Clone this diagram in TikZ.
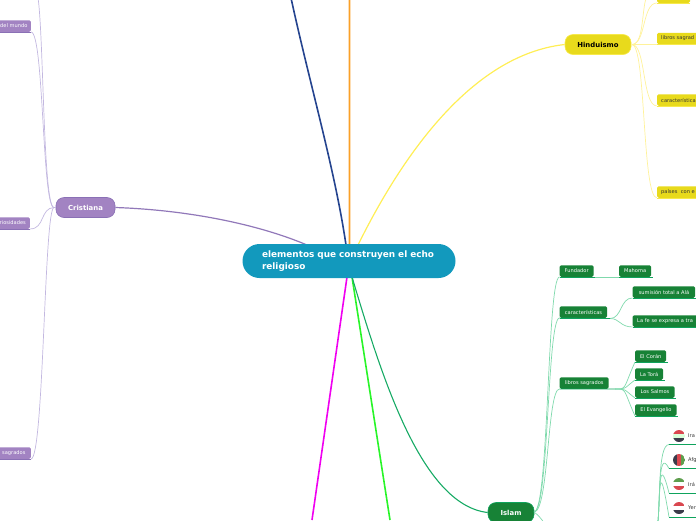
\documentclass[tikz,border=0pt]{standalone}
\usepackage{fontspec}
\setmainfont{DejaVu Sans}
\definecolor{cblue}{HTML}{1299BD}
\definecolor{cyel}{HTML}{E8DA1C}
\definecolor{lyel}{HTML}{FFF29A}
\definecolor{uyel}{HTML}{F7E94A}
\definecolor{cgrn}{HTML}{178236}
\definecolor{dgrn}{HTML}{0EA35C}
\definecolor{lgrn}{HTML}{7FD9AC}
\definecolor{cpur}{HTML}{A283C2}
\definecolor{dpur}{HTML}{8A70B5}
\definecolor{lpur}{HTML}{C3B8E0}
\definecolor{mnavy}{HTML}{25448F}
\definecolor{morange}{HTML}{FAA028}
\definecolor{myellow}{HTML}{FFEE55}
\definecolor{mpurple}{HTML}{9178B9}
\definecolor{mmagenta}{HTML}{F000F0}
\definecolor{mlime}{HTML}{28F528}
\definecolor{mgreen}{HTML}{16AA64}
\definecolor{fred}{HTML}{D9474F}
\definecolor{fblack}{HTML}{3B3B4A}
\definecolor{fgreen}{HTML}{5E9E4E}
\tikzset{
 x=1pt,y=-1pt,
 maintopic/.style={fill=cblue,rounded corners=17pt,minimum width=213pt,minimum height=34pt,inner xsep=19.5pt,inner ysep=0,text width=174pt,align=left,text=white,font=\fontsize{8.9}{11.6}\selectfont\bfseries},
 branch/.style={rounded corners=8pt,minimum height=20pt,inner sep=0,line width=.6pt,font=\fontsize{6.9}{8}\selectfont\bfseries},
 ybranch/.style={branch,fill=cyel,draw=uyel,text=black,minimum width=66pt},
 gbranch/.style={branch,fill=cgrn,draw=dgrn,text=white,minimum width=46pt},
 pbranch/.style={branch,fill=cpur,draw=dpur,text=white,minimum width=59pt},
 leaf/.style={rounded corners=1.5pt,minimum height=11.5pt,inner xsep=0,inner ysep=0,anchor=west,font=\fontsize{5.1}{6}\selectfont},
 gleaf/.style={leaf,fill=cgrn,text=white},
 yleaf/.style={leaf,fill=cyel,text=black!80,inner xsep=4pt,text width=50pt,align=left},
 pleaf/.style={leaf,fill=cpur,text=white,anchor=east},
 gedge/.style={leaf,fill=cgrn,text=white,inner xsep=4.5pt,text width=60pt,align=left},
 ctext/.style={anchor=west,inner sep=0,font=\fontsize{5.1}{6}\selectfont,text=black!80},
 gline/.style={draw=lgrn,line width=.7pt},
 yline/.style={draw=lyel,line width=.7pt},
 pline/.style={draw=lpur,line width=.7pt},
 gunder/.style={draw=dgrn,line width=.8pt},
 yunder/.style={draw=uyel,line width=.8pt},
 punder/.style={draw=dpur,line width=.8pt},
}
\newcommand{\flagc}[5]{%
 \begin{scope}
 \clip (#1,#2) circle (6pt);
 \fill[#3] (#1-6,#2-6) rectangle (#1+6,#2-2);
 \fill[#4] (#1-6,#2-2) rectangle (#1+6,#2+2);
 \fill[#5] (#1-6,#2+2) rectangle (#1+6,#2+6);
 \end{scope}}
\newcommand{\flagv}[5]{%
 \begin{scope}
 \clip (#1,#2) circle (6pt);
 \fill[#3] (#1-6,#2-6) rectangle (#1-2,#2+6);
 \fill[#4] (#1-2,#2-6) rectangle (#1+2,#2+6);
 \fill[#5] (#1+2,#2-6) rectangle (#1+6,#2+6);
 \end{scope}}
\begin{document}
\begin{tikzpicture}
\useasboundingbox (0,0) rectangle (696,520);
\coordinate (ctop1) at (291,-2);
\coordinate (ctop2) at (349.5,-5);
\coordinate (cb1) at (312,520);
\coordinate (cb2) at (390,520);
\coordinate (mo) at (349.5,250);
\node[ybranch] (h) at (598,44.5) {Hinduismo};
\node[gbranch] (i) at (511,512.5) {Islam};
\node[pbranch] (c) at (85.5,207.5) {Cristiana};
% main connectors
\draw[mnavy,line width=1.6pt] (ctop1) .. controls (310,85) and (335,170) .. (346,245);
\draw[draw=morange,line width=1.8pt] (ctop2) .. controls (349.6,80) and (349.4,170) .. (mo);
\draw[myellow,line width=1.2pt] (358,245) .. controls (400,160) and (470,55) .. (h.west);
\draw[mpurple,line width=1.2pt] (c.east) .. controls (190,210) and (260,225) .. (307,245);
\draw[mmagenta,line width=1.6pt] (347,277) -- (cb1);
\draw[mlime,line width=1.6pt] (352,277) -- (cb2);
\draw[mgreen,line width=1.1pt] (352,277) .. controls (380,370) and (420,505) .. (i.west);
\node[maintopic] (m) at (349,261) {\mbox{elementos que construyen el echo}\\religioso};
% Hinduismo leaves
\coordinate (hs) at (632,44.5);
\coordinate (ytop) at (650,-10);
\node[yleaf,text width=25pt] (y0) at (657,-3) {};
\node[yleaf] (y1) at (657,38.5) {libros sagrad};
\node[yleaf] (y2) at (657,100) {característica};
\node[yleaf] (y3) at (657,192) {países\ \ con e};
\draw[yline] (hs) .. controls (646,44) and (640,0) .. (ytop);
\draw[yline] (hs) .. controls (646,44) and (642,3) .. (y0.south west);
\draw[yline] (hs) -- (y1.south west);
\draw[yline] (hs) .. controls (646,44.5) and (642,106) .. (y2.south west);
\draw[yline] (hs) .. controls (646,44.5) and (642,198) .. (y3.south west);
\foreach \n in {y0,y1,y2,y3}{\draw[yunder] (\n.south west) -- (\n.south east);}
% Islam
\coordinate (is) at (534,512);
\coordinate (fan1) at (610,318.5);
\coordinate (fan2) at (615,389);
\coordinate (fan3) at (657,530);
\node[gleaf,minimum width=34pt] (g1) at (559.5,271) {Fundador};
\node[gleaf,minimum width=32pt] (g2) at (619,271) {Mahoma};
\node[gleaf,minimum width=47.5pt] (g3) at (559.5,312) {características};
\node[gleaf,minimum width=62.5pt] (g4) at (632.5,292) {sumisión total a Alá};
\node[gedge] (g5) at (632.5,321) {La fe se expresa a tra};
\node[gleaf,minimum width=49pt] (g6) at (559.5,383) {libros sagrados};
\node[gleaf,minimum width=31pt] (g7) at (635,356) {El Corán};
\node[gleaf,minimum width=28pt] (g8) at (635,374) {La Torá};
\node[gleaf,minimum width=39.5pt] (g9) at (635,392) {Los Salmos};
\node[gleaf,minimum width=41.5pt] (g10) at (635,410) {El Evangelio};
\draw[gline] (is) .. controls (549,512) and (547,277) .. (g1.south west);
\draw[gline] (g1.south east) -- (g2.south west);
\draw[gline] (is) .. controls (549,512) and (547,318) .. (g3.south west);
\draw[gline] (is) .. controls (549,512) and (547,389) .. (g6.south west);
\draw[gline] (fan1) .. controls (622,318.5) and (620,298) .. (g4.south west);
\draw[gline] (fan1) .. controls (620,318.5) and (620,327) .. (g5.south west);
\foreach \n in {g7,g8,g9,g10}{\draw[gline] (fan2) .. controls (627,389) and (623,389) .. (\n.south west);}
\foreach \n in {g1,g2,g3,g4,g5,g7,g8,g9,g10}{\draw[gunder] (\n.south west) -- ([xshift=1.5pt]\n.south east);}
\draw[gunder] (g6.south west) -- (fan2);
\draw[gunder] (g3.south west) -- (fan1);
\coordinate (u1) at (669,444.5);
\coordinate (u2) at (669,468.5);
\coordinate (u3) at (669,493);
\coordinate (u4) at (669,517);
\foreach \n in {u1,u2,u3,u4}{\draw[gline] (fan3) .. controls (661,505) and (657,445) .. (\n) ;}
\foreach \n in {u1,u2,u3,u4}{\draw[gunder] (\n) -- ++(27,0);}
\draw[gline] (is) .. controls (538,515) and (541,518) .. (544,523);
\flagc{679}{436}{fred}{white!85!green}{fblack}
\flagv{679}{460}{fblack}{fred}{fgreen}
\flagc{679}{484}{fgreen}{white}{fred}
\flagc{679}{508}{fred}{white}{fblack}
\node[ctext] (t1) at (688,436) {Ira};
\node[ctext] (t2) at (688,460) {Afg};
\node[ctext] (t3) at (688,484) {Irá};
\node[ctext] (t4) at (688,508) {Yer};
% Cristiana
\coordinate (cs) at (54,207.5);
\coordinate (ptop) at (36,-10);
\node[pleaf,minimum width=34pt] (p1) at (31,26) {del mundo\hspace{3.5pt}};
\node[pleaf,minimum width=34pt] (p2) at (30,223) {riosidades\hspace{3pt}};
\node[pleaf,minimum width=34pt] (p3) at (31,453) {sagrados\hspace{3.5pt}};
\draw[pline] (cs) .. controls (42,208) and (44,0) .. (ptop);
\draw[pline] (cs) .. controls (42,208) and (44,32) .. (p1.south east);
\draw[pline] (cs) .. controls (40,208) and (45,229) .. (p2.south east);
\draw[pline] (cs) .. controls (44,208) and (44,459) .. (p3.south east);
\draw[pline] (cs) -- (c.west);
\foreach \n in {p1,p2,p3}{\draw[punder] (\n.south east) -- (\n.south west);}
\end{tikzpicture}
\end{document}
